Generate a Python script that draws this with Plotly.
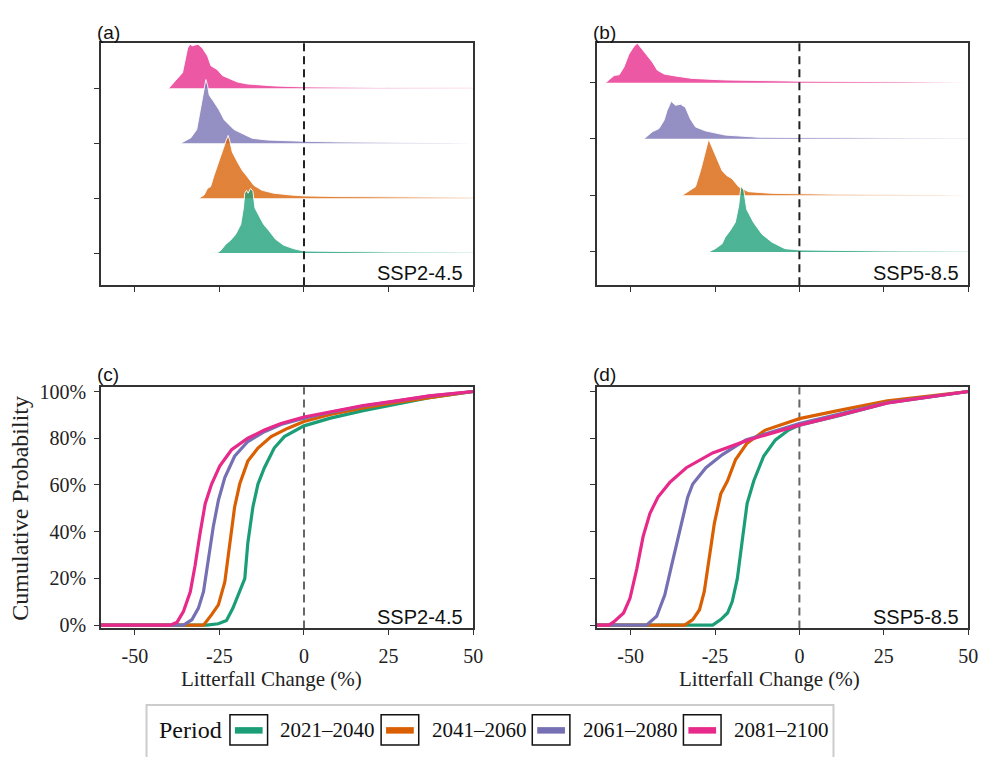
import plotly.graph_objects as go

W, H = 991, 757

periods = ["2021–2040", "2041–2060", "2061–2080", "2081–2100"]
line_colors = ["#1B9E77", "#D95F02", "#7570B3", "#E7298A"]
fill_rgb = [(27, 158, 119), (217, 95, 2), (117, 112, 179), (231, 41, 138)]
scenarios = ["SSP2-4.5", "SSP5-8.5"]
xticks = [-50, -25, 0, 25, 50]
xticktext = ["-50", "-25", "0", "25", "50"]
yticks_pct = [0, 20, 40, 60, 80, 100]
yticktext_pct = ["0%", "20%", "40%", "60%", "80%", "100%"]

# ---------------- ridge densities (relative height) ----------------
a_green_x = [-28.0, -25.5, -24.6, -23.1, -21.7, -20.2, -18.7, -17.9, -17.5, -17.0, -16.5, -15.8, -15.1, -14.5, -13.3, -11.9, -10.4, -8.4, -6.0, -3.0, 0, 10, 25, 50]
a_green_h = [0, 0.5, 2.7, 9, 13, 19, 29, 46, 61, 64, 61, 66, 63, 46, 38, 29, 23, 14, 8, 4.3, 2, 1.3, 1, 0.8]
a_orange_x = [-31.0, -29.5, -28.5, -27.6, -26.6, -25.1, -24.1, -23.1, -22.4, -21.9, -21.2, -19.7, -18.2, -16.8, -14.8, -12.4, -8.9, -4, 0, 10, 25, 50]
a_orange_h = [0, 3.3, 10, 11.7, 23, 37, 48, 58, 64, 58, 47, 37, 28, 22, 13, 8, 5, 3.2, 2.3, 1.6, 1.1, 0.8]
a_purple_x = [-36.4, -33.4, -31.7, -31.0, -30.0, -29.5, -29.0, -28.5, -28.0, -26.6, -25.1, -23.6, -20.7, -17.7, -15.3, -10.9, -5, 0, 10, 25, 50]
a_purple_h = [0, 5.7, 14, 27, 47, 59, 65, 59, 49, 42, 34, 24, 14, 9, 5, 3.3, 2.5, 2, 1.3, 0.9, 0.5]
a_pink_x = [-40.0, -36.9, -35.9, -34.4, -33.7, -33.0, -32.2, -31.3, -30.0, -28.5, -27.5, -25.6, -24.1, -22.1, -19.7, -16.8, -8.9, 0, 10, 25, 50]
a_pink_h = [0, 13, 16, 41, 45, 43.5, 44.5, 45, 41, 33, 23, 19, 13, 10, 6.5, 4.5, 2.5, 1.5, 1.1, 0.8, 0.5]

b_green_x = [-26.9, -24.9, -22.9, -22.0, -20.5, -19.0, -18.0, -17.3, -16.5, -15.6, -13.6, -11.1, -8.2, -4.3, 0, 10, 25, 50]
b_green_h = [0, 3.3, 8.3, 15, 21.7, 30, 46.7, 67, 63, 43, 30, 18, 10, 3.3, 2, 1.3, 1, 0.7]
b_orange_x = [-34.7, -32.3, -30.8, -29.3, -27.9, -26.9, -25.9, -24.4, -22.9, -21.5, -20.0, -18.0, -15.1, -8.2, 0, 10, 25, 50]
b_orange_h = [0, 5.3, 8.7, 25, 45, 57, 49, 37, 25, 20, 17, 8.7, 3.7, 2, 1.5, 1.1, 0.9, 0.7]
b_purple_x = [-46.0, -43.6, -41.6, -40.1, -39.2, -38.0, -36.7, -35.2, -33.8, -32.3, -30.8, -27.9, -22.0, -12.1, 0, 10, 25, 50]
b_purple_h = [0, 7, 10.3, 18.7, 28.7, 38, 34, 35, 32, 20, 12, 8, 3.7, 1.5, 1.2, 0.9, 0.7, 0.5]
b_pink_x = [-57.4, -54.9, -53.4, -52.0, -50.5, -49.0, -48.0, -46.6, -45.1, -43.6, -42.1, -40.1, -36.7, -31.8, -22.0, 0, 25, 50]
b_pink_h = [0, 7.3, 8, 15.7, 29, 37, 40, 34, 27, 21, 12.7, 8.7, 6.7, 4.3, 2.7, 1.5, 1, 0.7]

# ---------------- cumulative probability (%) ----------------
c_green_x = [-60, -28.8, -25.3, -22.9, -21.0, -19.0, -17.5, -16.6, -15.1, -13.6, -11.7, -8.8, -5.8, 0, 7.8, 17.5, 27.3, 37, 50]
c_green_y = [0, 0, 0.6, 2, 7.3, 14.3, 19.9, 35.2, 50.6, 60.4, 67.4, 75.8, 80.7, 85.3, 88.6, 91.8, 94.6, 97.4, 100]
c_orange_x = [-60, -29.7, -27.3, -25.3, -23.4, -21.9, -20.5, -19.0, -16.6, -13.6, -9.7, -4.9, 0, 7.8, 17.5, 27.3, 50]
c_orange_y = [0, 0, 4.5, 8.7, 18.5, 35.2, 50.6, 60.4, 70.2, 75.8, 80.7, 84.2, 87.2, 90.2, 93, 95.3, 100]
c_purple_x = [-60, -35.6, -33.1, -31.2, -29.7, -28.3, -26.8, -25.3, -23.4, -20.5, -16.6, -11.7, -6.8, 0, 7.8, 17.5, 27.3, 37, 50]
c_purple_y = [0, 0, 2.4, 7.3, 14.3, 28.2, 42.2, 53.4, 63.2, 72.3, 78.6, 82.8, 85.9, 88.6, 91.1, 93.8, 95.9, 98, 100]
c_pink_x = [-60, -39.5, -37.5, -35.6, -33.6, -32.2, -30.7, -29.2, -27.3, -24.9, -21.4, -16.6, -11.7, -6.8, 0, 7.8, 17.5, 27.3, 37, 50]
c_pink_y = [0, 0, 1.3, 5.9, 14.3, 25.4, 39.4, 52, 60.4, 68.1, 75.1, 80, 83.5, 86.3, 89.1, 91.4, 94, 96, 98.1, 100]

d_green_x = [-60, -25.7, -23.3, -21.3, -19.9, -18.4, -16.9, -15.5, -13.5, -10.6, -7.1, -3.2, 0, 11.4, 26.1, 50]
d_green_y = [0, 0, 2.4, 5.2, 10.1, 19.9, 36.6, 52, 61.8, 72.3, 79.3, 83.5, 85.6, 89.5, 95.1, 100]
d_orange_x = [-60, -34, -31.6, -29.6, -28.2, -26.7, -25.2, -23.3, -21.3, -18.9, -15.5, -10.1, 0, 11.4, 26.1, 50]
d_orange_y = [0, 0, 2.4, 6.6, 14.3, 28.2, 43.6, 56.2, 61.8, 70.9, 77.9, 83.5, 88.4, 91.8, 96, 100]
d_purple_x = [-60, -45.3, -42.3, -39.9, -37.9, -35.5, -33.1, -31.6, -27.7, -22.8, -15.9, 0, 26.1, 50]
d_purple_y = [0, 0, 3.8, 12.9, 25.4, 40.8, 54.8, 60.4, 67.4, 73, 79.3, 86.3, 95.3, 100]
d_pink_x = [-60, -56.5, -55.1, -52.1, -50.2, -48.2, -46.3, -44.3, -41.9, -38.4, -33.5, -25.7, -15, 0, 11.4, 26.1, 50]
d_pink_y = [0, 0, 1.3, 5.2, 11.5, 24, 38, 47.8, 54.8, 61.1, 67.4, 73.7, 79.3, 85.6, 89.7, 95.1, 100]

ridges = {
    "a": [(a_green_x, a_green_h), (a_orange_x, a_orange_h), (a_purple_x, a_purple_h), (a_pink_x, a_pink_h)],
    "b": [(b_green_x, b_green_h), (b_orange_x, b_orange_h), (b_purple_x, b_purple_h), (b_pink_x, b_pink_h)],
}
cdfs = {
    "c": [(c_green_x, c_green_y), (c_orange_x, c_orange_y), (c_purple_x, c_purple_y), (c_pink_x, c_pink_y)],
    "d": [(d_green_x, d_green_y), (d_orange_x, d_orange_y), (d_purple_x, d_purple_y), (d_pink_x, d_pink_y)],
}

# ---------------- layout constants ----------------
SERIF = "Liberation Serif, Times New Roman, serif"
SANS = "Liberation Sans, Arial, sans-serif"
AX = "#333333"

def px_x(p):
    return p / W

def px_y(p):
    return 1 - p / H

dom_left = [px_x(102), px_x(478)]
dom_right = [px_x(603), px_x(978)]
dom_top = [px_y(284), px_y(37)]
dom_bot = [px_y(634), px_y(388)]

ridge_offsets = {"a": [0, 56, 112, 168], "b": [0, 57.5, 115, 172]}
ridge_ranges = {"a": [-33, 214], "b": [-34, 212]}

fig = go.Figure()

# ridges: draw top (pink) first so lower ridges are in front
for key, xa, ya in [("a", "x", "y"), ("b", "x2", "y2")]:
    offs = ridge_offsets[key]
    for i in reversed(range(4)):
        xs, hs = ridges[key][i]
        base = offs[i]
        r, g, b = fill_rgb[i]
        top = [base + h for h in hs]
        fig.add_trace(go.Scatter(
            x=list(xs) + [xs[-1], xs[0]], y=top + [base, base],
            fill="toself", mode="lines", line=dict(width=0),
            fillgradient=dict(type="horizontal",
                              colorscale=[[0, f"rgba({r},{g},{b},0.78)"],
                                          [0.6, f"rgba({r},{g},{b},0.78)"],
                                          [1, f"rgba({r},{g},{b},0.5)"]]),
            xaxis=xa, yaxis=ya, showlegend=False, hoverinfo="skip"))
        fig.add_trace(go.Scatter(
            x=xs, y=top, mode="lines", line=dict(color="rgba(255,255,255,0.9)", width=1),
            xaxis=xa, yaxis=ya, showlegend=False, hoverinfo="skip"))

for key, xa, ya in [("c", "x3", "y3"), ("d", "x4", "y4")]:
    for i in range(4):
        xs, ys = cdfs[key][i]
        fig.add_trace(go.Scatter(
            x=xs, y=ys, mode="lines", line=dict(color=line_colors[i], width=3.2),
            xaxis=xa, yaxis=ya, showlegend=False, name=periods[i]))

axis_common = dict(showline=True, linecolor=AX, linewidth=1.5, mirror=True,
                   ticks="outside", ticklen=5, tickwidth=1.2, tickcolor=AX,
                   showgrid=False, zeroline=False)

xa_common = dict(axis_common, range=[-60, 50], tickvals=xticks, ticktext=xticktext)

fig.update_layout(
    width=W, height=H,
    margin=dict(l=0, r=0, t=0, b=0),
    paper_bgcolor="white", plot_bgcolor="white",
    showlegend=False,
    xaxis=dict(xa_common, domain=dom_left, anchor="y", showticklabels=False),
    yaxis=dict(axis_common, domain=dom_top, anchor="x", range=ridge_ranges["a"],
               tickvals=ridge_offsets["a"], showticklabels=False),
    xaxis2=dict(xa_common, domain=dom_right, anchor="y2", showticklabels=False),
    yaxis2=dict(axis_common, domain=dom_top, anchor="x2", range=ridge_ranges["b"],
                tickvals=ridge_offsets["b"], showticklabels=False),
    xaxis3=dict(xa_common, domain=dom_left, anchor="y3",
                tickfont=dict(family=SERIF, size=20, color="#222"), ticklabelstandoff=4),
    yaxis3=dict(axis_common, domain=dom_bot, anchor="x3", range=[-1.4, 101.8],
                tickvals=yticks_pct, ticktext=yticktext_pct,
                tickfont=dict(family=SERIF, size=20, color="#222"), ticklabelstandoff=4),
    xaxis4=dict(xa_common, domain=dom_right, anchor="y4",
                tickfont=dict(family=SERIF, size=20, color="#222"), ticklabelstandoff=4),
    yaxis4=dict(axis_common, domain=dom_bot, anchor="x4", range=[-1.4, 101.8],
                tickvals=yticks_pct, showticklabels=False),
)

# zero reference lines
for xr, yr, col, layer in [("x", "y", "#222222", "above"), ("x2", "y2", "#222222", "above"),
                           ("x3", "y3", "#666666", "below"), ("x4", "y4", "#666666", "below")]:
    fig.add_shape(type="line", xref=xr, yref=yr + " domain", x0=0, x1=0, y0=0, y1=1,
                  line=dict(color=col, width=2, dash="8px,5px"), layer=layer)

# panel letters
for lab, xp, yp in [("(a)", 96, 26), ("(b)", 597, 26), ("(c)", 96, 375), ("(d)", 597, 375)]:
    fig.add_annotation(x=px_x(xp), y=px_y(yp), xref="paper", yref="paper", text=lab,
                       showarrow=False, xanchor="left", yanchor="middle",
                       font=dict(family=SANS, size=19, color="#111"))

# scenario labels
for sc, xp, yp in [(scenarios[0], 470, 271), (scenarios[1], 971, 271),
                   (scenarios[0], 470, 622), (scenarios[1], 971, 622)]:
    fig.add_annotation(x=px_x(xp), y=px_y(yp), xref="paper", yref="paper", text=sc,
                       showarrow=False, xanchor="right", yanchor="middle",
                       font=dict(family=SANS, size=20, color="#111"))

# axis titles
for xp in [274, 777]:
    fig.add_annotation(x=px_x(xp), y=px_y(686), xref="paper", yref="paper",
                       text="Litterfall Change (%)", showarrow=False,
                       xanchor="center", yanchor="middle",
                       font=dict(family=SERIF, size=21, color="#222"))
fig.add_annotation(x=px_x(20), y=px_y(511), xref="paper", yref="paper",
                   text="Cumulative Probability", showarrow=False, textangle=-90,
                   xanchor="center", yanchor="middle",
                   font=dict(family=SERIF, size=24, color="#222"))

# legend box (manual)
fig.add_shape(type="rect", xref="paper", yref="paper",
              x0=px_x(148), x1=px_x(842), y0=px_y(775), y1=px_y(712),
              line=dict(color="#cccccc", width=2), fillcolor="white")
fig.add_annotation(x=px_x(159), y=px_y(738), xref="paper", yref="paper", text="Period",
                   showarrow=False, xanchor="left", yanchor="middle",
                   font=dict(family=SERIF, size=24, color="#111"))
for i, p in enumerate(periods):
    left = 232.3 + i * 152.7
    fig.add_shape(type="rect", xref="paper", yref="paper",
                  x0=px_x(left), x1=px_x(left + 38), y0=px_y(753), y1=px_y(722),
                  line=dict(color="#111", width=1.5), fillcolor="white")
    fig.add_shape(type="line", xref="paper", yref="paper",
                  x0=px_x(left + 5), x1=px_x(left + 33), y0=px_y(738), y1=px_y(738),
                  line=dict(color=line_colors[i], width=6.5))
    fig.add_annotation(x=px_x(left + 49), y=px_y(738), xref="paper", yref="paper", text=p,
                       showarrow=False, xanchor="left", yanchor="middle",
                       font=dict(family=SERIF, size=21, color="#111"))

fig.write_html("out.html", config={"displayModeBar": False},
               post_script="document.body.style.margin='0';document.body.style.overflow='hidden';")
